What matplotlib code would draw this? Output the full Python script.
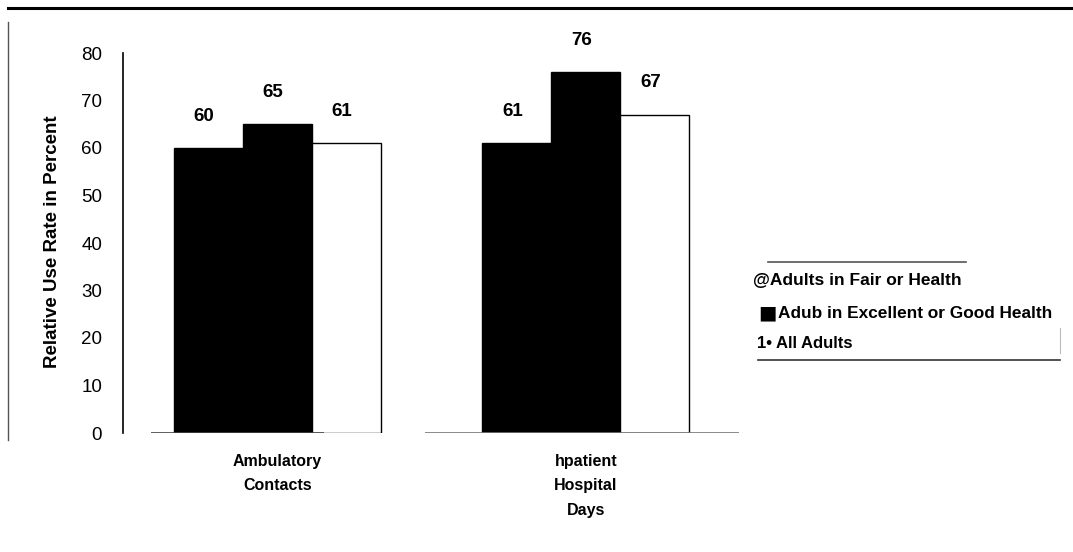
import matplotlib
matplotlib.use("Agg")
import matplotlib.pyplot as plt
from matplotlib.lines import Line2D
import numpy as np

# ---- data ----
categories = ["Ambulatory\nContacts", "hpatient\nHospital\nDays"]
series_names = ["@Adults in Fair or Health", "Adub in Excellent or Good Health", "All Adults"]
fair_poor = [60, 61]
excellent_good = [65, 76]
all_adults = [61, 67]
yticks = [0, 10, 20, 30, 40, 50, 60, 70, 80]
ylabel = "Relative Use Rate in Percent"

plt.rcParams['font.family'] = ['Liberation Sans', 'DejaVu Sans']

W, H = 1073, 552
fig = plt.figure(figsize=(W / 100, H / 100), dpi=100)
fig.patch.set_facecolor('white')

def fx(px):
    return px / W

def fy(py):
    return 1 - py / H

ax = fig.add_axes([fx(123), fy(433), fx(740) - fx(123), fy(53) - fy(433)])
ax.set_xlim(-0.5, 1.5)
ax.set_ylim(0, 80)

x = np.arange(len(categories))
w = 0.224
series = [fair_poor, excellent_good, all_adults]
faces = ['black', 'black', 'white']
for i, (vals, fc) in enumerate(zip(series, faces)):
    bars = ax.bar(x + (i - 1) * w, vals, width=w, color=fc,
                  edgecolor='black', linewidth=1.0, zorder=3)
    for b, v in zip(bars, vals):
        ax.annotate(f"{v}", (b.get_x() + b.get_width() / 2, v),
                    xytext=(-3, 23), textcoords='offset points',
                    ha='center', va='center', fontsize=13.5, fontweight='bold')

# baseline segments
ax.hlines(0, -0.41, 0.153, color='#444444', lw=1.2, zorder=4)
ax.hlines(0, 0.48, 1.497, color='#777777', lw=1.2, zorder=4)

for s in ['top', 'right', 'bottom']:
    ax.spines[s].set_visible(False)
ax.spines['left'].set_linewidth(1.2)
ax.set_yticks(yticks)
ax.set_yticklabels([str(t) for t in yticks], fontsize=13.5)
ax.tick_params(axis='y', length=0, pad=15)
ax.set_xticks(x)
ax.set_xticklabels(categories, fontsize=11.5, fontweight='bold',
                   linespacing=1.8)
ax.tick_params(axis='x', length=0, pad=15)
for lab in ax.get_xticklabels():
    lab.set_verticalalignment('top')

fig.text(fx(53), fy(242), ylabel, rotation=90, ha='center', va='center',
         fontsize=13.5, fontweight='bold')

# frame lines
fig.add_artist(Line2D([fx(8), 1.0], [fy(8), fy(8)], color='black', lw=2.2))
fig.add_artist(Line2D([fx(8), fx(8)], [fy(22), fy(440)], color='#555555', lw=1.0))

# legend
fig.add_artist(Line2D([fx(768), fx(966)], [fy(262), fy(262)], color='#555555', lw=1.2))
fig.text(fx(753), fy(280), series_names[0], ha='left', va='center',
         fontsize=12.5, fontweight='bold')
fig.text(fx(758), fy(313), "\u25A0", ha='left', va='center', fontsize=14,
         family=['DejaVu Sans'])
fig.text(fx(778), fy(313), series_names[1], ha='left', va='center',
         fontsize=12.4, fontweight='bold')
fig.text(fx(757), fy(343), "1\u2022 " + series_names[2], ha='left', va='center',
         fontsize=12, fontweight='bold')
fig.add_artist(Line2D([fx(758), fx(1060)], [fy(360), fy(360)], color='#333333', lw=1.2))
fig.add_artist(Line2D([fx(1060), fx(1060)], [fy(328), fy(353)], color='#bbbbbb', lw=0.8))

fig.savefig("out.png", dpi=100)
